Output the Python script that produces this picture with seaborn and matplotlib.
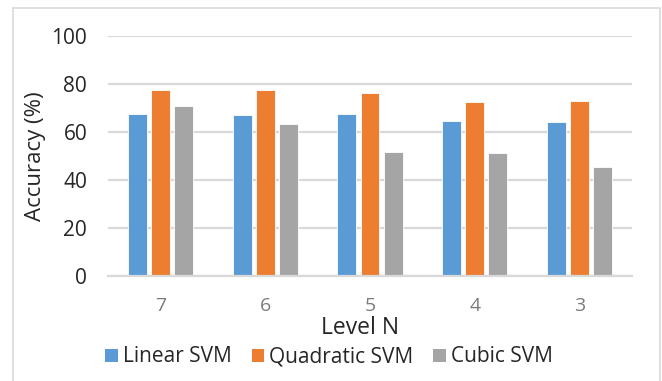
import numpy as np
import pandas as pd
import matplotlib
matplotlib.use("Agg")
import matplotlib.pyplot as plt
from matplotlib.patches import Rectangle, Patch
import seaborn as sns

# Accuracy of each SVM kernel per decomposition level
levels = ["7", "6", "5", "4", "3"]
models = ["Linear SVM", "Quadratic SVM", "Cubic SVM"]
linear_svm = [67.5, 67.2, 67.4, 64.5, 64.0]
quadratic_svm = [77.7, 77.7, 76.1, 72.7, 72.8]
cubic_svm = [70.7, 63.2, 51.8, 51.4, 45.6]
y_ticks = [0, 20, 40, 60, 80, 100]

palette = ["#5B9BD5", "#ED7D31", "#A5A5A5"]

df = pd.DataFrame({
    "Level N": levels * 3,
    "Model": [models[0]] * 5 + [models[1]] * 5 + [models[2]] * 5,
    "Accuracy": linear_svm + quadratic_svm + cubic_svm,
})

sns.set_theme(style="white")
plt.rcParams["font.family"] = ["Open Sans", "DejaVu Sans"]

W, H = 662, 381
fig = plt.figure(figsize=(W / 100, H / 100), dpi=100)
ax = fig.add_axes([108 / W, 1 - 276 / H, (632 - 108) / W, (276 - 36) / H])

sns.barplot(data=df, x="Level N", y="Accuracy", hue="Model", order=levels,
            hue_order=models, palette=palette, width=0.66, gap=0.18,
            saturation=1, edgecolor="white", linewidth=0.6, ax=ax,
            legend=False, errorbar=None)

ax.set_xlim(-0.5, len(levels) - 0.5)
ax.set_ylim(0, 100)
ax.set_yticks(y_ticks)
ax.yaxis.grid(True, color="#D9D9D9", linewidth=1.6)
ax.set_axisbelow(True)
for s in ["top", "right", "left"]:
    ax.spines[s].set_visible(False)
ax.spines["bottom"].set_color("#D9D9D9")
ax.spines["bottom"].set_linewidth(1.6)
ax.tick_params(axis="both", length=0)
ax.tick_params(axis="y", labelsize=15, labelcolor="#262626", pad=15)
ax.tick_params(axis="x", labelsize=14, labelcolor="#7A7A7A", pad=15)
ax.set_xlabel("")
ax.set_ylabel("")

fig.text(35 / W, 1 - 156 / H, "Accuracy (%)", rotation=90, ha="center",
         va="center", fontsize=16, color="#262626")
fig.text(360 / W, 1 - 328 / H, "Level N", ha="center", va="center",
         fontsize=16.5, color="#262626")

handles = [Patch(facecolor=c, edgecolor="none") for c in palette]
fig.legend(handles, models, loc="center", bbox_to_anchor=(329 / W, 1 - 357 / H),
           ncol=3, frameon=False, fontsize=15, handlelength=0.6,
           handleheight=0.6, handletextpad=0.25, columnspacing=0.95,
           labelcolor="#262626")

# outer chart border
fig.patches.append(Rectangle((13 / W, -0.05), (660 - 13) / W, 1.05 - 7.5 / H,
                             transform=fig.transFigure, fill=False,
                             edgecolor="#D9D9D9", linewidth=1.2))

fig.savefig("out.png", dpi=100, facecolor="white")
